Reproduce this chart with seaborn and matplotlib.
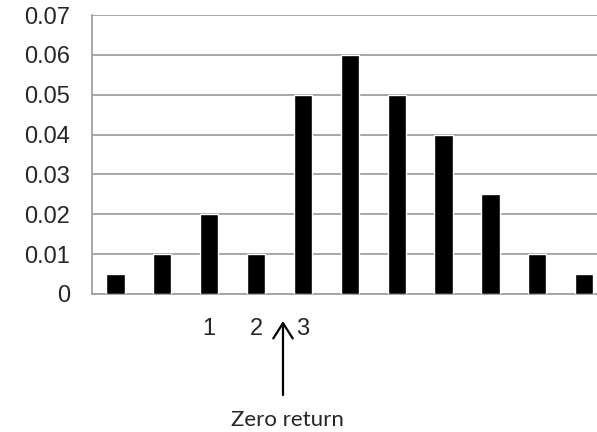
import pandas as pd
import numpy as np
import seaborn as sns
import matplotlib.pyplot as plt

# bar heights
probs = [0.005, 0.01, 0.02, 0.01, 0.05, 0.06, 0.05, 0.04, 0.025, 0.01, 0.005]
positions = list(range(len(probs)))
tick_labels = ['', '', '1', '2', '3', '', '', '', '', '', '']
y_ticks = [0, 0.01, 0.02, 0.03, 0.04, 0.05, 0.06, 0.07]
y_tick_labels = ['0', '0.01', '0.02', '0.03', '0.04', '0.05', '0.06', '0.07']
note = 'Zero return'
arrow_x = 3.575

GRAY = '#A0A0A0'

sns.set_style('white')
plt.rcParams['font.family'] = ['Liberation Sans', 'DejaVu Sans']

fig = plt.figure(figsize=(5.97, 4.32), dpi=100)
ax = fig.add_axes([92 / 597, 138 / 432, 11 * 46.87 / 597, 279 / 432])

df = pd.DataFrame({'pos': positions, 'prob': probs})
sns.barplot(data=df, x='pos', y='prob', color='black', saturation=1,
            width=0.39, ax=ax, zorder=3)

ax.set_xlim(-0.5, len(probs) - 0.5)
ax.set_ylim(0, 0.07)
ax.set_yticks(y_ticks)
ax.set_yticklabels(y_tick_labels, fontsize=17)
ax.set_xticks(positions)
ax.set_xticklabels(tick_labels, fontsize=17)
ax.set_xticks(np.arange(-0.5, len(probs), 1), minor=True)
ax.tick_params(axis='x', which='major', length=0, pad=17)
ax.tick_params(axis='x', which='minor', length=6, width=1.3, color=GRAY)
ax.tick_params(axis='y', length=5, width=1.3, color=GRAY, pad=11)
ax.set_xlabel('')
ax.set_ylabel('')

ax.yaxis.grid(True, color=GRAY, linewidth=1.3, zorder=0)
ax.set_axisbelow(True)
for side in ['top', 'right']:
    ax.spines[side].set_visible(False)
for side in ['left', 'bottom']:
    ax.spines[side].set_color(GRAY)
    ax.spines[side].set_linewidth(1.3)

# arrow pointing at zero return
ax.annotate('', xy=(arrow_x, -0.097), xytext=(arrow_x, -0.362),
            xycoords=('data', 'axes fraction'), textcoords=('data', 'axes fraction'),
            arrowprops=dict(arrowstyle='->, head_length=1.1, head_width=0.7',
                            color='black', lw=1.6, mutation_scale=10,
                            shrinkA=0, shrinkB=0),
            annotation_clip=False)
ax.text(arrow_x + 0.1, -0.45, note, transform=ax.get_xaxis_transform(),
        ha='center', va='center', fontsize=16, family=['Lato', 'DejaVu Sans'])

fig.savefig('out.png', dpi=100)
